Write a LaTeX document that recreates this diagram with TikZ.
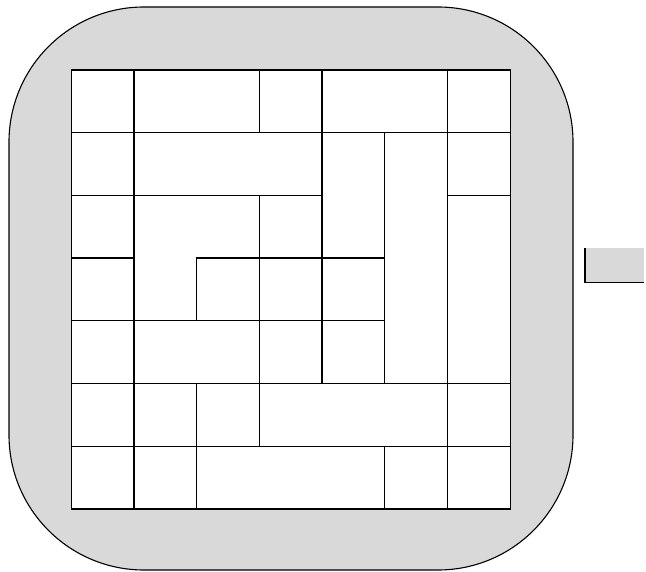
\documentclass[tikz,border=0pt]{standalone}
\definecolor{panelgray}{HTML}{D9D9D9}
\begin{document}
\begin{tikzpicture}[x=1pt,y=-1pt,
  piece/.style={draw=black,fill=white,line width=1.3pt,line join=miter},
  panel/.style={draw=black,fill=panelgray,line width=1.1pt}]
\useasboundingbox (0,0) rectangle (646,572);
% rounded panel
\draw[panel,rounded corners=135pt] (9,7) rectangle (573,570);
% small box at right
\fill[panelgray] (585,248.5) rectangle (644,282.5);
\draw[line width=1.6pt] (585,248.5) -- (585,282.5) -- (644,282.5);
% grid of pieces
\begin{scope}[shift={(71.3,70)},x=62.7pt,y=-62.7pt]
  % row 0
  \draw[piece] (0,0) rectangle (1,1);
  \draw[piece] (1,0) rectangle (3,1);
  \draw[piece] (3,0) rectangle (4,1);
  \draw[piece] (4,0) rectangle (6,1);
  \draw[piece] (6,0) rectangle (7,1);
  % row 1
  \draw[piece] (0,1) rectangle (1,2);
  \draw[piece] (1,1) rectangle (4,2);
  \draw[piece] (4,1) rectangle (5,3);
  \draw[piece] (5,1) rectangle (6,5);
  \draw[piece] (6,1) rectangle (7,2);
  % row 2
  \draw[piece] (0,2) rectangle (1,3);
  \draw[piece] (1,2) -- (3,2) -- (3,3) -- (2,3) -- (2,4) -- (1,4) -- cycle;
  \draw[piece] (3,2) rectangle (4,3);
  \draw[piece] (6,2) rectangle (7,5);
  % row 3
  \draw[piece] (0,3) rectangle (1,4);
  \draw[piece] (2,3) rectangle (3,4);
  \draw[piece] (3,3) rectangle (4,4);
  \draw[piece] (4,3) rectangle (5,4);
  % row 4
  \draw[piece] (0,4) rectangle (1,5);
  \draw[piece] (1,4) rectangle (3,5);
  \draw[piece] (3,4) rectangle (4,5);
  \draw[piece] (4,4) rectangle (5,5);
  % row 5
  \draw[piece] (0,5) rectangle (1,6);
  \draw[piece] (1,5) rectangle (2,6);
  \draw[piece] (2,5) rectangle (3,6);
  \draw[piece] (3,5) rectangle (6,6);
  \draw[piece] (6,5) rectangle (7,6);
  % row 6
  \draw[piece] (0,6) rectangle (1,7);
  \draw[piece] (1,6) rectangle (2,7);
  \draw[piece] (2,6) rectangle (5,7);
  \draw[piece] (5,6) rectangle (6,7);
  \draw[piece] (6,6) rectangle (7,7);
\end{scope}
\end{tikzpicture}
\end{document}
